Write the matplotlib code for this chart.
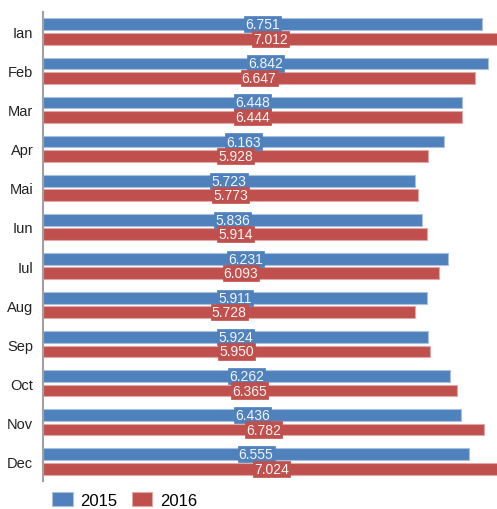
import matplotlib.pyplot as plt
import numpy as np

months = ["Ian", "Feb", "Mar", "Apr", "Mai", "Iun", "Iul", "Aug", "Sep", "Oct", "Nov", "Dec"]
values_2015 = [6.751, 6.842, 6.448, 6.163, 5.723, 5.836, 6.231, 5.911, 5.924, 6.262, 6.436, 6.555]
values_2016 = [7.012, 6.647, 6.444, 5.928, 5.773, 5.914, 6.093, 5.728, 5.950, 6.365, 6.782, 7.024]

series = [
    ("2015", values_2015, "#4f81bd", "#a9c0de", -0.185),
    ("2016", values_2016, "#c0504d", "#e0a8a6", 0.185),
]

plt.rcParams["font.family"] = ["Liberation Sans", "DejaVu Sans"]

fig = plt.figure(figsize=(4.97, 5.10), dpi=100)
ax = fig.add_axes([43 / 497, 28 / 510, 455 / 497, 469 / 510])

y = np.arange(len(months))
for name, vals, color, edge, offset in series:
    ax.barh(y + offset, vals, height=0.3, color=color, edgecolor=edge,
            linewidth=0.8, label=name)

# value labels sit at the middle of each bar, boxed in the bar colour
for name, vals, color, edge, offset in series:
    for yi, v in zip(y, vals):
        ax.text(v / 2, yi + offset, f"{v:.3f}", ha="center", va="center",
                fontsize=10, color="#f4f4f4",
                bbox=dict(boxstyle="square,pad=0.08", facecolor=color,
                          edgecolor=color, linewidth=0.5))

ax.set_xlim(0, 7.0)
ax.set_ylim(len(months) - 0.5, -0.5)
ax.set_yticks(y)
ax.set_yticklabels(months, fontsize=10.5, color="#222222")
ax.tick_params(axis="y", length=0, pad=7)
ax.set_xticks([])
for side in ["top", "right", "bottom"]:
    ax.spines[side].set_visible(False)
ax.spines["left"].set_color("#a0a0a0")
ax.spines["left"].set_linewidth(1.5)

fig.legend(loc="center left", bbox_to_anchor=(52 / 497, 1 - 501 / 510), ncol=2,
           frameon=False, fontsize=12, borderpad=0, borderaxespad=0,
           handlelength=1.25, handleheight=0.85, handletextpad=0.45,
           columnspacing=0.85)

fig.savefig("out.png", dpi=100)
